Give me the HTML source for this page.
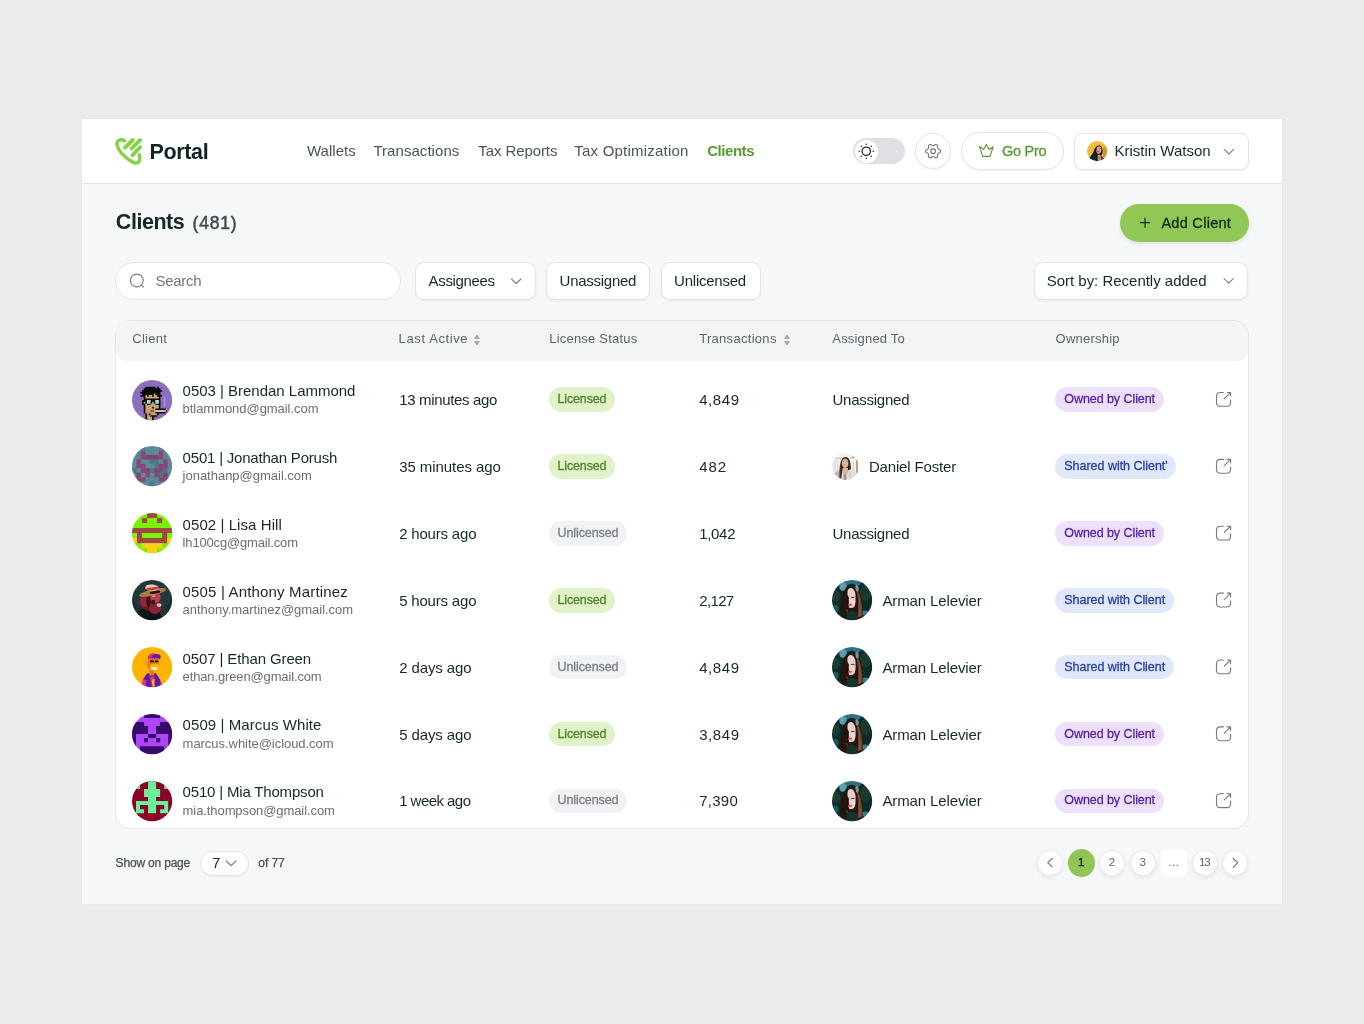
<!DOCTYPE html>
<html><head><meta charset="utf-8"><title>Portal - Clients</title>
<style>
*{box-sizing:border-box;margin:0;padding:0}
html,body{width:1364px;height:1024px;overflow:hidden}
body{background:#ebebeb;font-family:"Liberation Sans",sans-serif;position:relative}
#root{position:absolute;left:0;top:0;width:1364px;height:1024px;will-change:transform}
.t{position:absolute;white-space:pre;line-height:1}
.abs{position:absolute}
.card{position:absolute;left:82px;top:119px;width:1200px;height:785px;background:#f6f7f9;box-shadow:0 0 2px rgba(0,0,0,.04)}
.hdr{position:absolute;left:82px;top:119px;width:1200px;height:65px;background:#fff;border-bottom:1px solid #e6e7ea}
.btn{position:absolute;background:#fff;border:1px solid #e3e4e8;box-shadow:0 1px 2px rgba(16,24,40,.05)}
svg{position:absolute;overflow:visible}
</style></head>
<body>
<div id="root">
<div class="card"></div><div class="hdr"></div>
<svg style="left:0;top:0" width="1364" height="200" fill="none" stroke="#84d14a" stroke-linecap="round" stroke-linejoin="round">
<path stroke-width="3.5" d="M124.7 140.8 C123.4 139.9 122.3 139.6 121.1 139.65 C119.9 139.75 118.8 140.15 118.0 140.95 C117.2 141.85 116.9 143 117.05 144.2 C117.2 145.8 117.7 147.2 118.5 148.7 C119.5 150.5 120.8 152.2 122.2 153.9 C123.8 155.6 125.5 157.2 127.4 158.7 C129 159.9 130.6 161 132.3 161.9 C133.6 162.6 135 163.1 136.3 163.0 C137.7 162.9 138.8 162.2 139.3 161.0 C139.7 160 139.8 158.8 139.7 157.6 C139.6 156.6 139.5 155.7 139.3 154.8"/>
<path stroke-width="3.9" d="M124.85 147.55 L132.8 140"/>
<path stroke-width="3.9" d="M131.5 148.3 L140.2 140"/>
<path stroke-width="3.9" d="M132.45 155.2 L140.2 147.25"/>
</svg>
<span class="t" style="left:149.4px;top:142px;font-size:21.5px;font-weight:700;color:#0f2422;letter-spacing:-0.328px;">Portal</span>
<span class="t" style="left:306.9px;top:143px;font-size:15px;color:#4c5456;letter-spacing:0.046px;">Wallets</span>
<span class="t" style="left:373.4px;top:143px;font-size:15px;color:#4c5456;letter-spacing:0.053px;">Transactions</span>
<span class="t" style="left:478.3px;top:143px;font-size:15px;color:#4c5456;letter-spacing:-0.095px;">Tax Reports</span>
<span class="t" style="left:574.3px;top:143px;font-size:15px;color:#4c5456;letter-spacing:0.215px;">Tax Optimization</span>
<span class="t" style="left:707.2px;top:143px;font-size:15px;font-weight:700;color:#5a9833;letter-spacing:-0.453px;">Clients</span>
<div class="abs" style="left:853.1px;top:138.1px;width:51.8px;height:26px;border-radius:13px;background:#dfe0e3"></div>
<div class="abs" style="left:854.6px;top:139.5px;width:23.2px;height:23.2px;border-radius:50%;background:#fff"></div>
<svg style="left:0;top:0" width="1364" height="200" fill="none" stroke="#1d2c2c" stroke-width="1.3"><circle cx="866.25" cy="151.25" r="4.2"/><circle cx="873.25" cy="151.25" r="0.75" fill="#1d2c2c" stroke="none"/><circle cx="871.20" cy="156.20" r="0.75" fill="#1d2c2c" stroke="none"/><circle cx="866.25" cy="158.25" r="0.75" fill="#1d2c2c" stroke="none"/><circle cx="861.30" cy="156.20" r="0.75" fill="#1d2c2c" stroke="none"/><circle cx="859.25" cy="151.25" r="0.75" fill="#1d2c2c" stroke="none"/><circle cx="861.30" cy="146.30" r="0.75" fill="#1d2c2c" stroke="none"/><circle cx="866.25" cy="144.25" r="0.75" fill="#1d2c2c" stroke="none"/><circle cx="871.20" cy="146.30" r="0.75" fill="#1d2c2c" stroke="none"/></svg>
<div class="btn" style="left:915px;top:133px;width:36px;height:36px;border-radius:50%"></div>
<svg style="left:0;top:0" width="1364" height="200" fill="none" stroke="#70767a" stroke-width="1.1" stroke-linejoin="round"><path d="M940.50 151.20 L940.49 151.39 L940.47 151.59 L940.44 151.78 L940.38 151.97 L940.30 152.15 L940.19 152.32 L940.03 152.49 L939.84 152.63 L939.60 152.76 L939.33 152.87 L939.06 152.97 L938.82 153.06 L938.61 153.15 L938.44 153.25 L938.31 153.36 L938.20 153.47 L938.10 153.59 L938.02 153.70 L937.94 153.83 L937.86 153.95 L937.79 154.08 L937.73 154.20 L937.67 154.34 L937.61 154.48 L937.57 154.63 L937.55 154.80 L937.55 155.00 L937.57 155.22 L937.61 155.48 L937.66 155.76 L937.70 156.05 L937.71 156.32 L937.68 156.56 L937.62 156.78 L937.52 156.96 L937.40 157.12 L937.27 157.27 L937.12 157.39 L936.96 157.51 L936.80 157.61 L936.63 157.70 L936.45 157.78 L936.27 157.84 L936.08 157.89 L935.88 157.91 L935.67 157.90 L935.45 157.85 L935.23 157.75 L935.00 157.61 L934.77 157.43 L934.55 157.25 L934.35 157.08 L934.17 156.95 L934.00 156.85 L933.84 156.79 L933.68 156.75 L933.53 156.72 L933.39 156.71 L933.24 156.70 L933.10 156.70 L932.96 156.70 L932.81 156.71 L932.67 156.72 L932.52 156.75 L932.36 156.79 L932.20 156.85 L932.03 156.95 L931.85 157.08 L931.65 157.25 L931.43 157.43 L931.20 157.61 L930.97 157.75 L930.75 157.85 L930.53 157.90 L930.32 157.91 L930.12 157.89 L929.93 157.84 L929.75 157.78 L929.57 157.70 L929.40 157.61 L929.24 157.51 L929.08 157.39 L928.93 157.27 L928.80 157.12 L928.68 156.96 L928.58 156.78 L928.52 156.56 L928.49 156.32 L928.50 156.05 L928.54 155.76 L928.59 155.48 L928.63 155.22 L928.65 155.00 L928.65 154.80 L928.63 154.63 L928.59 154.48 L928.53 154.34 L928.47 154.20 L928.41 154.08 L928.34 153.95 L928.26 153.83 L928.18 153.70 L928.10 153.59 L928.00 153.47 L927.89 153.36 L927.76 153.25 L927.59 153.15 L927.38 153.06 L927.14 152.97 L926.87 152.87 L926.60 152.76 L926.36 152.63 L926.17 152.49 L926.01 152.32 L925.90 152.15 L925.82 151.97 L925.76 151.78 L925.73 151.59 L925.71 151.39 L925.70 151.20 L925.71 151.01 L925.73 150.81 L925.76 150.62 L925.82 150.43 L925.90 150.25 L926.01 150.08 L926.17 149.91 L926.36 149.77 L926.60 149.64 L926.87 149.53 L927.14 149.43 L927.38 149.34 L927.59 149.25 L927.76 149.15 L927.89 149.04 L928.00 148.93 L928.10 148.81 L928.18 148.70 L928.26 148.57 L928.34 148.45 L928.41 148.32 L928.47 148.20 L928.53 148.06 L928.59 147.92 L928.63 147.77 L928.65 147.60 L928.65 147.40 L928.63 147.18 L928.59 146.92 L928.54 146.64 L928.50 146.35 L928.49 146.08 L928.52 145.84 L928.58 145.62 L928.68 145.44 L928.80 145.28 L928.93 145.13 L929.08 145.01 L929.24 144.89 L929.40 144.79 L929.57 144.70 L929.75 144.62 L929.93 144.56 L930.12 144.51 L930.32 144.49 L930.53 144.50 L930.75 144.55 L930.97 144.65 L931.20 144.79 L931.43 144.97 L931.65 145.15 L931.85 145.32 L932.03 145.45 L932.20 145.55 L932.36 145.61 L932.52 145.65 L932.67 145.68 L932.81 145.69 L932.96 145.70 L933.10 145.70 L933.24 145.70 L933.39 145.69 L933.53 145.68 L933.68 145.65 L933.84 145.61 L934.00 145.55 L934.17 145.45 L934.35 145.32 L934.55 145.15 L934.77 144.97 L935.00 144.79 L935.23 144.65 L935.45 144.55 L935.67 144.50 L935.88 144.49 L936.08 144.51 L936.27 144.56 L936.45 144.62 L936.63 144.70 L936.80 144.79 L936.96 144.89 L937.12 145.01 L937.27 145.13 L937.40 145.28 L937.52 145.44 L937.62 145.62 L937.68 145.84 L937.71 146.08 L937.70 146.35 L937.66 146.64 L937.61 146.92 L937.57 147.18 L937.55 147.40 L937.55 147.60 L937.57 147.77 L937.61 147.92 L937.67 148.06 L937.73 148.20 L937.79 148.32 L937.86 148.45 L937.94 148.57 L938.02 148.70 L938.10 148.81 L938.20 148.93 L938.31 149.04 L938.44 149.15 L938.61 149.25 L938.82 149.34 L939.06 149.43 L939.33 149.53 L939.60 149.64 L939.84 149.77 L940.03 149.91 L940.19 150.08 L940.30 150.25 L940.38 150.43 L940.44 150.62 L940.47 150.81 L940.49 151.01 Z"/><circle cx="933.1" cy="151.2" r="2.3"/></svg>
<div class="btn" style="left:961.3px;top:132px;width:102.6px;height:38px;border-radius:19px"></div>
<svg style="left:0;top:0" width="1364" height="200" fill="none" stroke="#5e9a38" stroke-width="1.15" stroke-linejoin="round" stroke-linecap="round">
<path d="M979.5 146.6 L982.7 156.4 L990.0 156.4 L993.2 146.8 L989.0 149.4 L986.3 144.5 L983.7 149.4 Z"/></svg>
<span class="t" style="left:1002.1px;top:144px;font-size:14.5px;color:#5a9833;letter-spacing:-0.308px;-webkit-text-stroke:0.3px #5a9833;">Go Pro</span>
<div class="btn" style="left:1074.4px;top:133px;width:174.2px;height:37px;border-radius:8px"></div>
<svg style="left:1087.05px;top:140.85px" width="20.30" height="20.30" viewBox="150 140 740 740"><defs><clipPath id="kkw"><circle cx="520" cy="510" r="370"/></clipPath><filter id="fkw" x="-10%" y="-10%" width="120%" height="120%"><feGaussianBlur stdDeviation="12"/></filter></defs><g clip-path="url(#kkw)"><g filter="url(#fkw)"><rect x="0" y="0" width="1100" height="1100" fill="#f1bd3c"/><ellipse cx="820" cy="560" rx="110" ry="230" fill="#d99a22"/><ellipse cx="800" cy="560" rx="25" ry="90" fill="#9aa23a"/><path d="M240 760 Q380 600 440 400 Q520 270 640 300 Q720 360 720 520 Q700 640 660 700 L760 780 L700 900 L380 900 Z" fill="#1a1512"/><path d="M240 760 Q360 640 430 560 L540 700 L520 880 L340 880 Z" fill="#0e2a2b"/><path d="M660 680 L760 760 L700 860 L640 840 Z" fill="#2a5a5e"/><ellipse cx="585" cy="470" rx="92" ry="135" transform="rotate(12 585 470)" fill="#dca08a"/><path d="M540 640 L650 640 L660 860 L540 860 Z" fill="#c98c78"/><ellipse cx="548" cy="520" rx="45" ry="30" fill="#d8485a"/><ellipse cx="640" cy="420" rx="34" ry="16" fill="#5a3a30"/></g></g></svg>
<span class="t" style="left:1114.5px;top:143px;font-size:15px;color:#16282a;letter-spacing:-0.003px;">Kristin Watson</span>
<svg style="left:0;top:0" width="1364" height="200" fill="none" stroke="#7d8285" stroke-width="1.1" stroke-linecap="round" stroke-linejoin="round"><path d="M1224.2 149.4 L1228.9 154 L1233.6 149.4"/></svg>
<span class="t" style="left:115.8px;top:212px;font-size:21.5px;font-weight:700;color:#132724;letter-spacing:-0.448px;">Clients</span>
<span class="t" style="left:192.6px;top:215px;font-size:17.5px;color:#454b4d;letter-spacing:0.76px;-webkit-text-stroke:0.5px #454b4d;">(481)</span>
<div class="abs" style="left:1120px;top:203.6px;width:129px;height:38px;border-radius:19px;background:#90c755;box-shadow:0 2px 4px rgba(60,90,20,.12)"></div>
<svg style="left:0;top:0" width="1364" height="300" fill="none" stroke="#1b2e1e" stroke-width="1.2" stroke-linecap="round"><path d="M1140.4 222.7 H1149.6 M1145 218.1 V227.3"/></svg>
<span class="t" style="left:1161.4px;top:216px;font-size:14.5px;color:#14261c;letter-spacing:0.288px;-webkit-text-stroke:0.3px #14261c;">Add Client</span>
<div class="btn" style="left:115.4px;top:262px;width:285.6px;height:38px;border-radius:19px;box-shadow:none"></div>
<svg style="left:0;top:0" width="1364" height="320" fill="none" stroke="#777c7e" stroke-width="1.1" stroke-linecap="round"><circle cx="136.8" cy="280.5" r="6.4"/><path d="M141.6 285.2 L143.4 287"/></svg>
<span class="t" style="left:155.6px;top:273px;font-size:15px;color:#707577;letter-spacing:-0.326px;">Search</span>
<div class="btn" style="left:414.8px;top:262px;width:120.8px;height:38px;border-radius:9px"></div>
<span class="t" style="left:428.6px;top:273px;font-size:15px;color:#16282a;letter-spacing:-0.34px;">Assignees</span>
<div class="btn" style="left:546.1px;top:262px;width:104.2px;height:38px;border-radius:9px"></div>
<span class="t" style="left:559.6px;top:273px;font-size:15px;color:#16282a;letter-spacing:-0.269px;">Unassigned</span>
<div class="btn" style="left:661.1px;top:262px;width:99.6px;height:38px;border-radius:9px"></div>
<span class="t" style="left:674.1px;top:273px;font-size:15px;color:#16282a;letter-spacing:-0.235px;">Unlicensed</span>
<div class="btn" style="left:1033.7px;top:262px;width:214.8px;height:38px;border-radius:9px"></div>
<span class="t" style="left:1046.7px;top:273px;font-size:15px;color:#16282a;letter-spacing:-0.013px;">Sort by: Recently added</span>
<svg style="left:0;top:0" width="1364" height="320" fill="none" stroke="#7d8285" stroke-width="1.1" stroke-linecap="round" stroke-linejoin="round"><path d="M511.5 279 L516.2 283.5 L520.9 279"/><path d="M1224.1 278.6 L1228.7 283.1 L1233.3 278.6"/></svg>
<div class="abs" style="left:115.4px;top:319.8px;width:1133.4px;height:509px;border-radius:15px;background:#fff;border:1px solid #e4e5e9"></div>
<div class="abs" style="left:116.4px;top:320.8px;width:1131.4px;height:40px;border-radius:14px 14px 10px 10px;background:#f3f4f6"></div>
<span class="t" style="left:132.3px;top:332px;font-size:13px;color:#5f6567;letter-spacing:0.27px;">Client</span>
<span class="t" style="left:398.6px;top:332px;font-size:13px;color:#5f6567;letter-spacing:0.613px;">Last Active</span>
<span class="t" style="left:549.2px;top:332px;font-size:13px;color:#5f6567;letter-spacing:0.217px;">License Status</span>
<span class="t" style="left:699.2px;top:332px;font-size:13px;color:#5f6567;letter-spacing:0.297px;">Transactions</span>
<span class="t" style="left:832.3px;top:332px;font-size:13px;color:#5f6567;letter-spacing:0.181px;">Assigned To</span>
<span class="t" style="left:1055.6px;top:332px;font-size:13px;color:#5f6567;letter-spacing:0.232px;">Ownership</span>
<svg style="left:0;top:0" width="1364" height="400" fill="#a6aaad" stroke="#a6aaad" stroke-width="1" stroke-linejoin="round"><path d="M474.5 338.55 L476.9 335.0 L479.29999999999995 338.55 Z"/><path d="M474.5 341.45 L476.9 345.0 L479.29999999999995 341.45 Z"/><path d="M784.6 338.55 L787 335.0 L789.4 338.55 Z"/><path d="M784.6 341.45 L787 345.0 L789.4 341.45 Z"/></svg>
<svg style="left:131.90px;top:379.50px" width="40.20" height="40.20" viewBox="92 75 886 886"><defs><clipPath id="kp"><circle cx="535" cy="518" r="443"/></clipPath></defs><g clip-path="url(#kp)"><rect x="0" y="0" width="1100" height="1100" fill="#8c6ebd"/><path fill="#a88bd6" d="M793.4 444.2h36.9v36.9h-36.9zM793.4 481.1h36.9v36.9h-36.9zM793.4 518.0h36.9v36.9h-36.9zM793.4 554.9h36.9v36.9h-36.9zM793.4 591.8h36.9v36.9h-36.9zM793.4 628.8h36.9v36.9h-36.9z"/><path fill="#0a0a08" d="M387.3 222.7h221.5v36.9h-221.5zM645.8 222.7h36.9v36.9h-36.9zM350.4 259.6h369.2v36.9h-369.2zM313.5 296.5h443.0v36.9h-443.0zM276.6 333.4h443.0v36.9h-443.0zM313.5 370.3h406.1v36.9h-406.1zM276.6 407.2h479.9v36.9h-479.9zM350.4 444.2h369.2v36.9h-369.2zM350.4 481.1h369.2v36.9h-369.2zM313.5 518.0h406.1v36.9h-406.1zM313.5 554.9h406.1v36.9h-406.1zM313.5 591.8h406.1v36.9h-406.1zM350.4 628.8h369.2v36.9h-369.2zM350.4 665.7h369.2v36.9h-369.2zM350.4 702.6h479.9v36.9h-479.9zM350.4 739.5h516.8v36.9h-516.8zM350.4 776.4h479.9v36.9h-479.9zM387.3 813.3h295.3v36.9h-295.3zM387.3 850.2h258.4v36.9h-258.4zM387.3 887.2h184.6v36.9h-184.6zM387.3 924.1h184.6v36.9h-184.6z"/><path fill="#c7a06f" d="M571.9 370.3h36.9v36.9h-36.9zM387.3 407.2h36.9v36.9h-36.9zM461.2 407.2h73.8v36.9h-73.8zM571.9 407.2h73.8v36.9h-73.8zM387.3 444.2h295.3v36.9h-295.3zM424.2 518.0h73.8v36.9h-73.8zM608.8 518.0h73.8v36.9h-73.8zM350.4 554.9h36.9v36.9h-36.9zM424.2 554.9h73.8v36.9h-73.8zM535.0 554.9h36.9v36.9h-36.9zM608.8 554.9h73.8v36.9h-73.8zM387.3 591.8h36.9v36.9h-36.9zM498.1 591.8h110.8v36.9h-110.8zM387.3 628.8h295.3v36.9h-295.3zM387.3 665.7h147.7v36.9h-147.7zM571.9 665.7h110.8v36.9h-110.8zM387.3 702.6h221.5v36.9h-221.5zM387.3 739.5h443.0v36.9h-443.0zM387.3 776.4h221.5v36.9h-221.5zM424.2 813.3h36.9v36.9h-36.9zM498.1 813.3h147.7v36.9h-147.7zM424.2 850.2h73.8v36.9h-73.8zM424.2 887.2h110.8v36.9h-110.8zM424.2 924.1h110.8v36.9h-110.8z"/><path fill="#82ecec" d="M424.2 518.0h73.8v36.9h-73.8zM608.8 518.0h73.8v36.9h-73.8zM424.2 554.9h73.8v36.9h-73.8zM608.8 554.9h73.8v36.9h-73.8zM498.1 739.5h73.8v36.9h-73.8zM608.8 739.5h221.5v36.9h-221.5z"/><path fill="#8e1f1f" d="M498.1 739.5h73.8v36.9h-73.8zM608.8 739.5h221.5v36.9h-221.5z"/><path fill="#e8e8e8" d="M608.8 739.5h221.5v36.9h-221.5z"/><path fill="#f08a24" d="M793.4 739.5h36.9v36.9h-36.9z"/></g></svg>
<span class="t" style="left:182.6px;top:383px;font-size:15px;color:#16282a;letter-spacing:-0.018px;">0503 | Brendan Lammond</span>
<span class="t" style="left:182.6px;top:402px;font-size:13px;color:#6a6f71;letter-spacing:-0.047px;">btlammond@gmail.com</span>
<span class="t" style="left:399.2px;top:392px;font-size:15px;color:#16282a;letter-spacing:-0.344px;">13 minutes ago</span>
<div class="abs" style="left:548.8px;top:387.4px;width:66.4px;height:24.5px;border-radius:12.5px;background:#e1f1c8"></div>
<span class="t" style="left:557.5px;top:393px;font-size:12.5px;color:#4c862c;letter-spacing:-0.15px;-webkit-text-stroke:0.3px #4c862c;">Licensed</span>
<span class="t" style="left:699.2px;top:392px;font-size:15px;color:#16282a;letter-spacing:0.588px;">4,849</span>
<span class="t" style="left:832.5px;top:392px;font-size:15px;color:#16282a;letter-spacing:-0.247px;">Unassigned</span>
<div class="abs" style="left:1055.2px;top:387.4px;width:108.5px;height:24.5px;border-radius:12.5px;background:#ede0fa"></div>
<span class="t" style="left:1064.3px;top:393px;font-size:12.5px;color:#5a22a8;letter-spacing:-0.066px;-webkit-text-stroke:0.3px #5a22a8;">Owned by Client</span>
<svg style="left:131.90px;top:446.38px" width="40.20" height="40.20" viewBox="92 78 886 886"><defs><clipPath id="kj"><circle cx="535" cy="521" r="443"/></clipPath></defs><g clip-path="url(#kj)"><rect x="0" y="0" width="1100" height="1100" fill="#5b8a99"/><path fill="#568493" d="M288.9 78.0h98.4v98.4h-98.4zM682.7 78.0h98.4v98.4h-98.4zM190.4 176.4h98.4v98.4h-98.4zM485.8 176.4h98.4v98.4h-98.4zM190.4 274.9h98.4v98.4h-98.4zM781.1 274.9h98.4v98.4h-98.4z"/><path fill="#4a7887" d="M485.8 373.3h196.9v98.4h-196.9zM584.2 471.8h98.4v98.4h-98.4zM92.0 570.2h98.4v98.4h-98.4zM485.8 570.2h98.4v98.4h-98.4zM781.1 570.2h98.4v98.4h-98.4zM682.7 668.7h98.4v98.4h-98.4zM485.8 865.6h98.4v98.4h-98.4z"/><path fill="#8b4578" d="M288.9 176.4h98.4v98.4h-98.4zM682.7 176.4h98.4v98.4h-98.4zM288.9 274.9h98.4v98.4h-98.4zM682.7 274.9h98.4v98.4h-98.4zM190.4 373.3h98.4v98.4h-98.4zM781.1 373.3h98.4v98.4h-98.4zM190.4 471.8h196.9v98.4h-196.9zM682.7 471.8h196.9v98.4h-196.9zM288.9 570.2h98.4v98.4h-98.4zM682.7 570.2h98.4v98.4h-98.4zM387.3 668.7h98.4v98.4h-98.4zM584.2 668.7h98.4v98.4h-98.4zM190.4 767.1h196.9v98.4h-196.9zM682.7 767.1h196.9v98.4h-196.9z"/><path fill="#84406f" d="M387.3 274.9h295.3v98.4h-295.3zM387.3 570.2h98.4v98.4h-98.4zM584.2 570.2h98.4v98.4h-98.4zM190.4 668.7h98.4v98.4h-98.4zM781.1 668.7h98.4v98.4h-98.4z"/></g></svg>
<span class="t" style="left:182.6px;top:450px;font-size:15px;color:#16282a;letter-spacing:-0.201px;">0501 | Jonathan Porush</span>
<span class="t" style="left:182.6px;top:469px;font-size:13px;color:#6a6f71;letter-spacing:-0.014px;">jonathanp@gmail.com</span>
<span class="t" style="left:399.2px;top:459px;font-size:15px;color:#16282a;letter-spacing:-0.068px;">35 minutes ago</span>
<div class="abs" style="left:548.8px;top:454.3px;width:66.4px;height:24.5px;border-radius:12.5px;background:#e1f1c8"></div>
<span class="t" style="left:557.5px;top:460px;font-size:12.5px;color:#4c862c;letter-spacing:-0.15px;-webkit-text-stroke:0.3px #4c862c;">Licensed</span>
<span class="t" style="left:699.2px;top:459px;font-size:15px;color:#16282a;letter-spacing:0.984px;">482</span>
<svg style="left:831.95px;top:453.13px" width="26.90" height="26.90" viewBox="120 90 810 810"><defs><clipPath id="kdn"><circle cx="525" cy="495" r="405"/></clipPath><filter id="fdn" x="-10%" y="-10%" width="120%" height="120%"><feGaussianBlur stdDeviation="9"/></filter></defs><g clip-path="url(#kdn)"><g filter="url(#fdn)"><rect x="0" y="0" width="1100" height="1100" fill="#f1f2f3"/><rect x="150" y="300" width="170" height="360" fill="#e2e4e6"/><rect x="190" y="235" width="220" height="34" fill="#c4c6c8"/><ellipse cx="750" cy="225" rx="70" ry="35" fill="#b9bbbc"/><rect x="845" y="300" width="58" height="400" rx="10" fill="#b99a7a"/><rect x="752" y="340" width="26" height="300" fill="#d9c8b8"/><path d="M180 700 L330 610 L340 860 Z" fill="#b3b7ba"/><path d="M390 700 Q520 640 700 600 Q830 640 860 760 L700 900 L390 900 Z" fill="#e3dccf"/><rect x="470" y="700" width="80" height="200" fill="#8f979c"/><rect x="640" y="680" width="60" height="160" fill="#c9d0d6"/><path d="M340 840 Q330 420 420 260 Q520 170 620 250 Q700 380 690 580 L600 620 L430 620 L400 860 Z" fill="#4a2e20"/><ellipse cx="425" cy="520" rx="22" ry="50" fill="#0f0a08"/><ellipse cx="622" cy="520" rx="20" ry="48" fill="#0f0a08"/><ellipse cx="515" cy="400" rx="95" ry="140" fill="#dfb7a0"/><path d="M440 540 L600 540 L610 700 Q520 760 430 700 Z" fill="#dcb39c"/><ellipse cx="510" cy="440" rx="40" ry="12" fill="#c08a86"/><ellipse cx="470" cy="345" rx="22" ry="10" fill="#6b4a40"/><ellipse cx="560" cy="345" rx="22" ry="10" fill="#6b4a40"/></g></g></svg>
<span class="t" style="left:868.9px;top:459px;font-size:15px;color:#16282a;letter-spacing:-0.159px;">Daniel Foster</span>
<div class="abs" style="left:1055.2px;top:454.3px;width:121px;height:24.5px;border-radius:12.5px;background:#e1e8fc"></div>
<span class="t" style="left:1064.3px;top:460px;font-size:12.5px;color:#2740a8;letter-spacing:-0.024px;-webkit-text-stroke:0.3px #2740a8;">Shared with Client'</span>
<svg style="left:131.90px;top:513.26px" width="40.20" height="40.20" viewBox="92 72 886 886"><defs><clipPath id="kl"><circle cx="535" cy="515" r="443"/></clipPath></defs><g clip-path="url(#kl)"><rect x="0" y="0" width="1100" height="1100" fill="#79f300"/><path fill="#a04748" d="M424.2 72.0h221.5v110.8h-221.5zM313.5 182.8h110.8v110.8h-110.8zM645.8 182.8h110.8v110.8h-110.8zM92.0 404.2h886.0v110.8h-886.0zM202.8 515.0h110.8v110.8h-110.8zM756.5 515.0h110.8v110.8h-110.8zM202.8 625.8h664.5v110.8h-664.5z"/><path fill="#f7d118" d="M92.0 625.8h110.8v110.8h-110.8zM867.2 625.8h110.8v110.8h-110.8zM313.5 736.5h443.0v110.8h-443.0zM202.8 847.2h110.8v110.8h-110.8zM424.2 847.2h221.5v110.8h-221.5zM756.5 847.2h110.8v110.8h-110.8z"/></g></svg>
<span class="t" style="left:182.6px;top:517px;font-size:15px;color:#16282a;letter-spacing:0.072px;">0502 | Lisa Hill</span>
<span class="t" style="left:182.6px;top:536px;font-size:13px;color:#6a6f71;letter-spacing:-0.162px;">lh100cg@gmail.com</span>
<span class="t" style="left:399.2px;top:526px;font-size:15px;color:#16282a;letter-spacing:-0.193px;">2 hours ago</span>
<div class="abs" style="left:548.8px;top:521.2px;width:78.4px;height:24.5px;border-radius:12.5px;background:#f1f2f4"></div>
<span class="t" style="left:557.5px;top:527px;font-size:12.5px;color:#7a7f83;letter-spacing:-0.094px;-webkit-text-stroke:0.3px #7a7f83;">Unlicensed</span>
<span class="t" style="left:699.2px;top:526px;font-size:15px;color:#16282a;letter-spacing:-0.312px;">1,042</span>
<span class="t" style="left:832.5px;top:526px;font-size:15px;color:#16282a;letter-spacing:-0.247px;">Unassigned</span>
<div class="abs" style="left:1055.2px;top:521.2px;width:108.5px;height:24.5px;border-radius:12.5px;background:#ede0fa"></div>
<span class="t" style="left:1064.3px;top:527px;font-size:12.5px;color:#5a22a8;letter-spacing:-0.066px;-webkit-text-stroke:0.3px #5a22a8;">Owned by Client</span>
<svg style="left:131.90px;top:580.14px" width="40.20" height="40.20" viewBox="92 72 886 886"><defs><clipPath id="ka4"><circle cx="535" cy="515" r="443"/></clipPath><filter id="fa4" x="-10%" y="-10%" width="120%" height="120%"><feGaussianBlur stdDeviation="14"/></filter></defs><g clip-path="url(#ka4)"><g filter="url(#fa4)"><rect x="0" y="0" width="1100" height="1100" fill="#1d2d2e"/><ellipse cx="535" cy="420" rx="420" ry="330" fill="#24383a"/><path d="M190 960 Q200 720 360 690 L760 670 Q890 720 900 960 Z" fill="#0e1413"/><ellipse cx="800" cy="780" rx="90" ry="120" fill="#27332f"/><ellipse cx="470" cy="540" rx="215" ry="215" fill="#6b1a27"/><ellipse cx="600" cy="690" rx="140" ry="130" fill="#8a2432"/><ellipse cx="360" cy="520" rx="90" ry="150" fill="#8c2a38"/><ellipse cx="455" cy="520" rx="45" ry="170" fill="#3d0c14"/><ellipse cx="610" cy="455" rx="115" ry="125" fill="#c03c48"/><ellipse cx="570" cy="425" rx="40" ry="22" fill="#9fb0ad"/><ellipse cx="560" cy="560" rx="40" ry="50" fill="#2a1a12"/><ellipse cx="690" cy="625" rx="55" ry="40" fill="#d9c2c4"/><ellipse cx="545" cy="345" rx="305" ry="68" transform="rotate(-13 545 345)" fill="#a9784b"/><ellipse cx="600" cy="340" rx="120" ry="30" transform="rotate(-8 600 340)" fill="#2a0a10"/><ellipse cx="530" cy="245" rx="150" ry="75" fill="#dcc09a"/><ellipse cx="540" cy="262" rx="150" ry="34" transform="rotate(-8 540 262)" fill="#c8434d"/><ellipse cx="500" cy="205" rx="100" ry="30" fill="#e6d2b0"/></g></g></svg>
<span class="t" style="left:182.6px;top:584px;font-size:15px;color:#16282a;letter-spacing:0.168px;">0505 | Anthony Martinez</span>
<span class="t" style="left:182.6px;top:603px;font-size:13px;color:#6a6f71;letter-spacing:-0.028px;">anthony.martinez@gmail.com</span>
<span class="t" style="left:399.2px;top:593px;font-size:15px;color:#16282a;letter-spacing:-0.193px;">5 hours ago</span>
<div class="abs" style="left:548.8px;top:588.0px;width:66.4px;height:24.5px;border-radius:12.5px;background:#e1f1c8"></div>
<span class="t" style="left:557.5px;top:594px;font-size:12.5px;color:#4c862c;letter-spacing:-0.15px;-webkit-text-stroke:0.3px #4c862c;">Licensed</span>
<span class="t" style="left:699.2px;top:593px;font-size:15px;color:#16282a;letter-spacing:-0.637px;">2,127</span>
<svg style="left:832.00px;top:580.44px" width="40.20" height="40.20" viewBox="92 72 886 886"><defs><clipPath id="kr3"><circle cx="535" cy="515" r="443"/></clipPath><filter id="fr3" x="-10%" y="-10%" width="120%" height="120%"><feGaussianBlur stdDeviation="11"/></filter></defs><g clip-path="url(#kr3)"><g filter="url(#fr3)"><rect x="0" y="0" width="1100" height="1100" fill="#0f2c2a"/><ellipse cx="500" cy="140" rx="230" ry="85" fill="#2f6f82"/><ellipse cx="335" cy="215" rx="80" ry="95" fill="#5b9fb2"/><ellipse cx="830" cy="360" rx="120" ry="170" fill="#183a2e"/><ellipse cx="180" cy="430" rx="90" ry="130" fill="#1a3a30"/><ellipse cx="820" cy="800" rx="85" ry="55" fill="#2f7f92"/><ellipse cx="170" cy="700" rx="70" ry="80" fill="#1d5560"/><path d="M290 900 Q235 520 380 270 Q500 110 645 225 Q785 420 765 880 Q600 985 290 900 Z" fill="#21130e"/><path d="M420 200 Q520 110 620 190 L600 260 L450 260 Z" fill="#14201f"/><path d="M615 240 Q765 390 762 865 L650 900 Q700 560 615 240 Z" fill="#6a3c2b"/><path d="M660 330 Q735 520 720 860 L690 870 Q720 560 660 330 Z" fill="#9a6046"/><ellipse cx="645" cy="255" rx="36" ry="72" transform="rotate(-8 645 255)" fill="#8d8d95"/><path d="M395 700 Q480 770 565 950 L480 960 Q425 800 395 700 Z" fill="#7a4528"/><path d="M432 335 Q440 250 512 250 Q602 270 612 420 Q622 560 592 650 Q540 712 470 682 Q432 560 468 470 Q420 420 432 335 Z" fill="#ebcfcb"/><path d="M432 470 Q470 500 462 600 Q440 640 425 600 Z" fill="#1c100c"/><ellipse cx="550" cy="455" rx="48" ry="15" fill="#6a2f2c"/><ellipse cx="492" cy="620" rx="46" ry="22" fill="#cf4a5c"/><ellipse cx="560" cy="560" rx="40" ry="50" fill="#f0d8d4"/><path d="M420 765 Q540 725 640 785 L660 960 L400 960 Z" fill="#13302f"/></g></g></svg>
<span class="t" style="left:882.4px;top:593px;font-size:15px;color:#16282a;letter-spacing:-0.122px;">Arman Lelevier</span>
<div class="abs" style="left:1055.2px;top:588.0px;width:118.8px;height:24.5px;border-radius:12.5px;background:#e1e8fc"></div>
<span class="t" style="left:1064.3px;top:594px;font-size:12.5px;color:#2740a8;letter-spacing:-0.033px;-webkit-text-stroke:0.3px #2740a8;">Shared with Client</span>
<svg style="left:131.90px;top:647.02px" width="40.20" height="40.20" viewBox="92 72 886 886"><defs><clipPath id="ka5"><circle cx="535" cy="515" r="443"/></clipPath><filter id="fa5" x="-10%" y="-10%" width="120%" height="120%"><feGaussianBlur stdDeviation="5"/></filter></defs><g clip-path="url(#ka5)"><g filter="url(#fa5)"><rect x="0" y="0" width="1100" height="1100" fill="#fdb400"/><path d="M420 655 L620 650 L700 770 L770 960 L300 960 L340 780 Z" fill="#5a1fa6"/><path d="M310 900 L345 780 L405 800 L400 930 Z" fill="#f0249a"/><path d="M715 800 L760 900 L720 905 Z" fill="#f0249a"/><path d="M470 715 L600 715 L585 960 L530 960 Z" fill="#e0208a"/><path d="M525 790 L590 780 L590 950 L545 950 Z" fill="#f4b018"/><path d="M470 580 L570 590 L575 700 L480 700 Z" fill="#ee7a04"/><ellipse cx="555" cy="450" rx="135" ry="130" fill="#ee7a04"/><ellipse cx="395" cy="405" rx="40" ry="50" fill="#f7a112"/><ellipse cx="700" cy="405" rx="30" ry="45" fill="#f7a112"/><ellipse cx="590" cy="505" rx="95" ry="70" fill="#fdb813"/><rect x="515" y="520" width="135" height="55" rx="14" fill="#f2f2f0"/><rect x="488" y="368" width="88" height="40" rx="8" fill="#160c10"/><rect x="598" y="368" width="78" height="40" rx="8" fill="#160c10"/><path d="M440 330 Q450 230 560 215 L700 235 Q740 260 715 325 L690 340 L470 345 Z" fill="#5b1fa0"/><path d="M440 330 Q450 235 550 220 L600 228 Q520 270 505 335 Z" fill="#e0208a"/><rect x="465" y="322" width="225" height="36" rx="16" fill="#f0703a"/><rect x="470" y="340" width="215" height="18" rx="9" fill="#d8507a"/></g></g></svg>
<span class="t" style="left:182.6px;top:651px;font-size:15px;color:#16282a;letter-spacing:-0.122px;">0507 | Ethan Green</span>
<span class="t" style="left:182.6px;top:670px;font-size:13px;color:#6a6f71;letter-spacing:-0.136px;">ethan.green@gmail.com</span>
<span class="t" style="left:399.2px;top:660px;font-size:15px;color:#16282a;letter-spacing:-0.121px;">2 days ago</span>
<div class="abs" style="left:548.8px;top:654.9px;width:78.4px;height:24.5px;border-radius:12.5px;background:#f1f2f4"></div>
<span class="t" style="left:557.5px;top:661px;font-size:12.5px;color:#7a7f83;letter-spacing:-0.094px;-webkit-text-stroke:0.3px #7a7f83;">Unlicensed</span>
<span class="t" style="left:699.2px;top:660px;font-size:15px;color:#16282a;letter-spacing:0.588px;">4,849</span>
<svg style="left:832.00px;top:647.32px" width="40.20" height="40.20" viewBox="92 72 886 886"><defs><clipPath id="kr4"><circle cx="535" cy="515" r="443"/></clipPath><filter id="fr4" x="-10%" y="-10%" width="120%" height="120%"><feGaussianBlur stdDeviation="11"/></filter></defs><g clip-path="url(#kr4)"><g filter="url(#fr4)"><rect x="0" y="0" width="1100" height="1100" fill="#0f2c2a"/><ellipse cx="500" cy="140" rx="230" ry="85" fill="#2f6f82"/><ellipse cx="335" cy="215" rx="80" ry="95" fill="#5b9fb2"/><ellipse cx="830" cy="360" rx="120" ry="170" fill="#183a2e"/><ellipse cx="180" cy="430" rx="90" ry="130" fill="#1a3a30"/><ellipse cx="820" cy="800" rx="85" ry="55" fill="#2f7f92"/><ellipse cx="170" cy="700" rx="70" ry="80" fill="#1d5560"/><path d="M290 900 Q235 520 380 270 Q500 110 645 225 Q785 420 765 880 Q600 985 290 900 Z" fill="#21130e"/><path d="M420 200 Q520 110 620 190 L600 260 L450 260 Z" fill="#14201f"/><path d="M615 240 Q765 390 762 865 L650 900 Q700 560 615 240 Z" fill="#6a3c2b"/><path d="M660 330 Q735 520 720 860 L690 870 Q720 560 660 330 Z" fill="#9a6046"/><ellipse cx="645" cy="255" rx="36" ry="72" transform="rotate(-8 645 255)" fill="#8d8d95"/><path d="M395 700 Q480 770 565 950 L480 960 Q425 800 395 700 Z" fill="#7a4528"/><path d="M432 335 Q440 250 512 250 Q602 270 612 420 Q622 560 592 650 Q540 712 470 682 Q432 560 468 470 Q420 420 432 335 Z" fill="#ebcfcb"/><path d="M432 470 Q470 500 462 600 Q440 640 425 600 Z" fill="#1c100c"/><ellipse cx="550" cy="455" rx="48" ry="15" fill="#6a2f2c"/><ellipse cx="492" cy="620" rx="46" ry="22" fill="#cf4a5c"/><ellipse cx="560" cy="560" rx="40" ry="50" fill="#f0d8d4"/><path d="M420 765 Q540 725 640 785 L660 960 L400 960 Z" fill="#13302f"/></g></g></svg>
<span class="t" style="left:882.4px;top:660px;font-size:15px;color:#16282a;letter-spacing:-0.122px;">Arman Lelevier</span>
<div class="abs" style="left:1055.2px;top:654.9px;width:118.8px;height:24.5px;border-radius:12.5px;background:#e1e8fc"></div>
<span class="t" style="left:1064.3px;top:661px;font-size:12.5px;color:#2740a8;letter-spacing:-0.033px;-webkit-text-stroke:0.3px #2740a8;">Shared with Client</span>
<svg style="left:131.90px;top:713.90px" width="40.20" height="40.20" viewBox="92 68 886 886"><defs><clipPath id="km"><circle cx="535" cy="511" r="443"/></clipPath></defs><g clip-path="url(#km)"><rect x="0" y="0" width="1100" height="1100" fill="#ad45fa"/><path fill="#360a6b" d="M357.8 68.0h354.4v88.6h-354.4zM92.0 245.2h265.8v88.6h-265.8zM712.2 245.2h265.8v88.6h-265.8zM92.0 333.8h354.4v88.6h-354.4zM623.6 333.8h354.4v88.6h-354.4zM92.0 422.4h354.4v88.6h-354.4zM623.6 422.4h354.4v88.6h-354.4zM92.0 511.0h88.6v88.6h-88.6zM446.4 511.0h177.2v88.6h-177.2zM889.4 511.0h88.6v88.6h-88.6zM92.0 599.6h88.6v88.6h-88.6zM357.8 599.6h88.6v88.6h-88.6zM623.6 599.6h88.6v88.6h-88.6zM889.4 599.6h88.6v88.6h-88.6zM92.0 688.2h88.6v88.6h-88.6zM889.4 688.2h88.6v88.6h-88.6zM269.2 776.8h531.6v88.6h-531.6zM269.2 865.4h531.6v88.6h-531.6z"/></g></svg>
<span class="t" style="left:182.6px;top:717px;font-size:15px;color:#16282a;letter-spacing:0.084px;">0509 | Marcus White</span>
<span class="t" style="left:182.6px;top:737px;font-size:13px;color:#6a6f71;letter-spacing:-0.042px;">marcus.white@icloud.com</span>
<span class="t" style="left:399.2px;top:727px;font-size:15px;color:#16282a;letter-spacing:-0.121px;">5 days ago</span>
<div class="abs" style="left:548.8px;top:721.8px;width:66.4px;height:24.5px;border-radius:12.5px;background:#e1f1c8"></div>
<span class="t" style="left:557.5px;top:728px;font-size:12.5px;color:#4c862c;letter-spacing:-0.15px;-webkit-text-stroke:0.3px #4c862c;">Licensed</span>
<span class="t" style="left:699.2px;top:727px;font-size:15px;color:#16282a;letter-spacing:0.588px;">3,849</span>
<svg style="left:832.00px;top:714.20px" width="40.20" height="40.20" viewBox="92 72 886 886"><defs><clipPath id="kr5"><circle cx="535" cy="515" r="443"/></clipPath><filter id="fr5" x="-10%" y="-10%" width="120%" height="120%"><feGaussianBlur stdDeviation="11"/></filter></defs><g clip-path="url(#kr5)"><g filter="url(#fr5)"><rect x="0" y="0" width="1100" height="1100" fill="#0f2c2a"/><ellipse cx="500" cy="140" rx="230" ry="85" fill="#2f6f82"/><ellipse cx="335" cy="215" rx="80" ry="95" fill="#5b9fb2"/><ellipse cx="830" cy="360" rx="120" ry="170" fill="#183a2e"/><ellipse cx="180" cy="430" rx="90" ry="130" fill="#1a3a30"/><ellipse cx="820" cy="800" rx="85" ry="55" fill="#2f7f92"/><ellipse cx="170" cy="700" rx="70" ry="80" fill="#1d5560"/><path d="M290 900 Q235 520 380 270 Q500 110 645 225 Q785 420 765 880 Q600 985 290 900 Z" fill="#21130e"/><path d="M420 200 Q520 110 620 190 L600 260 L450 260 Z" fill="#14201f"/><path d="M615 240 Q765 390 762 865 L650 900 Q700 560 615 240 Z" fill="#6a3c2b"/><path d="M660 330 Q735 520 720 860 L690 870 Q720 560 660 330 Z" fill="#9a6046"/><ellipse cx="645" cy="255" rx="36" ry="72" transform="rotate(-8 645 255)" fill="#8d8d95"/><path d="M395 700 Q480 770 565 950 L480 960 Q425 800 395 700 Z" fill="#7a4528"/><path d="M432 335 Q440 250 512 250 Q602 270 612 420 Q622 560 592 650 Q540 712 470 682 Q432 560 468 470 Q420 420 432 335 Z" fill="#ebcfcb"/><path d="M432 470 Q470 500 462 600 Q440 640 425 600 Z" fill="#1c100c"/><ellipse cx="550" cy="455" rx="48" ry="15" fill="#6a2f2c"/><ellipse cx="492" cy="620" rx="46" ry="22" fill="#cf4a5c"/><ellipse cx="560" cy="560" rx="40" ry="50" fill="#f0d8d4"/><path d="M420 765 Q540 725 640 785 L660 960 L400 960 Z" fill="#13302f"/></g></g></svg>
<span class="t" style="left:882.4px;top:727px;font-size:15px;color:#16282a;letter-spacing:-0.122px;">Arman Lelevier</span>
<div class="abs" style="left:1055.2px;top:721.8px;width:108.5px;height:24.5px;border-radius:12.5px;background:#ede0fa"></div>
<span class="t" style="left:1064.3px;top:728px;font-size:12.5px;color:#5a22a8;letter-spacing:-0.066px;-webkit-text-stroke:0.3px #5a22a8;">Owned by Client</span>
<svg style="left:131.90px;top:780.78px" width="40.20" height="40.20" viewBox="92 68 886 886"><defs><clipPath id="kt"><circle cx="535" cy="511" r="443"/></clipPath></defs><g clip-path="url(#kt)"><rect x="0" y="0" width="1100" height="1100" fill="#8c0028"/><path fill="#6bf09a" d="M446.4 68.0h177.2v88.6h-177.2zM180.6 156.6h88.6v88.6h-88.6zM446.4 156.6h177.2v88.6h-177.2zM800.8 156.6h88.6v88.6h-88.6zM357.8 245.2h354.4v88.6h-354.4zM357.8 333.8h354.4v88.6h-354.4zM446.4 422.4h177.2v88.6h-177.2zM180.6 511.0h708.8v88.6h-708.8zM180.6 599.6h88.6v88.6h-88.6zM446.4 599.6h177.2v88.6h-177.2zM800.8 599.6h88.6v88.6h-88.6zM180.6 688.2h177.2v88.6h-177.2zM446.4 688.2h177.2v88.6h-177.2zM712.2 688.2h177.2v88.6h-177.2z"/></g></svg>
<span class="t" style="left:182.6px;top:784px;font-size:15px;color:#16282a;letter-spacing:-0.18px;">0510 | Mia Thompson</span>
<span class="t" style="left:182.6px;top:804px;font-size:13px;color:#6a6f71;letter-spacing:-0.085px;">mia.thompson@gmail.com</span>
<span class="t" style="left:399.2px;top:793px;font-size:15px;color:#16282a;letter-spacing:-0.548px;">1 week ago</span>
<div class="abs" style="left:548.8px;top:788.7px;width:78.4px;height:24.5px;border-radius:12.5px;background:#f1f2f4"></div>
<span class="t" style="left:557.5px;top:794px;font-size:12.5px;color:#7a7f83;letter-spacing:-0.094px;-webkit-text-stroke:0.3px #7a7f83;">Unlicensed</span>
<span class="t" style="left:699.2px;top:793px;font-size:15px;color:#16282a;letter-spacing:0.263px;">7,390</span>
<svg style="left:832.00px;top:781.08px" width="40.20" height="40.20" viewBox="92 72 886 886"><defs><clipPath id="kr6"><circle cx="535" cy="515" r="443"/></clipPath><filter id="fr6" x="-10%" y="-10%" width="120%" height="120%"><feGaussianBlur stdDeviation="11"/></filter></defs><g clip-path="url(#kr6)"><g filter="url(#fr6)"><rect x="0" y="0" width="1100" height="1100" fill="#0f2c2a"/><ellipse cx="500" cy="140" rx="230" ry="85" fill="#2f6f82"/><ellipse cx="335" cy="215" rx="80" ry="95" fill="#5b9fb2"/><ellipse cx="830" cy="360" rx="120" ry="170" fill="#183a2e"/><ellipse cx="180" cy="430" rx="90" ry="130" fill="#1a3a30"/><ellipse cx="820" cy="800" rx="85" ry="55" fill="#2f7f92"/><ellipse cx="170" cy="700" rx="70" ry="80" fill="#1d5560"/><path d="M290 900 Q235 520 380 270 Q500 110 645 225 Q785 420 765 880 Q600 985 290 900 Z" fill="#21130e"/><path d="M420 200 Q520 110 620 190 L600 260 L450 260 Z" fill="#14201f"/><path d="M615 240 Q765 390 762 865 L650 900 Q700 560 615 240 Z" fill="#6a3c2b"/><path d="M660 330 Q735 520 720 860 L690 870 Q720 560 660 330 Z" fill="#9a6046"/><ellipse cx="645" cy="255" rx="36" ry="72" transform="rotate(-8 645 255)" fill="#8d8d95"/><path d="M395 700 Q480 770 565 950 L480 960 Q425 800 395 700 Z" fill="#7a4528"/><path d="M432 335 Q440 250 512 250 Q602 270 612 420 Q622 560 592 650 Q540 712 470 682 Q432 560 468 470 Q420 420 432 335 Z" fill="#ebcfcb"/><path d="M432 470 Q470 500 462 600 Q440 640 425 600 Z" fill="#1c100c"/><ellipse cx="550" cy="455" rx="48" ry="15" fill="#6a2f2c"/><ellipse cx="492" cy="620" rx="46" ry="22" fill="#cf4a5c"/><ellipse cx="560" cy="560" rx="40" ry="50" fill="#f0d8d4"/><path d="M420 765 Q540 725 640 785 L660 960 L400 960 Z" fill="#13302f"/></g></g></svg>
<span class="t" style="left:882.4px;top:793px;font-size:15px;color:#16282a;letter-spacing:-0.122px;">Arman Lelevier</span>
<div class="abs" style="left:1055.2px;top:788.7px;width:108.5px;height:24.5px;border-radius:12.5px;background:#ede0fa"></div>
<span class="t" style="left:1064.3px;top:794px;font-size:12.5px;color:#5a22a8;letter-spacing:-0.066px;-webkit-text-stroke:0.3px #5a22a8;">Owned by Client</span>
<svg style="left:0;top:0" width="1364" height="1024" fill="none" stroke="#777c7f" stroke-width="1.1" stroke-linecap="round" stroke-linejoin="round"><path d="M1223.45 392.50 H1220.40 Q1216.50 392.50 1216.50 396.40 V402.40 Q1216.50 406.30 1220.40 406.30 H1226.70 Q1230.60 406.30 1230.60 402.40 V400.10"/><path d="M1224.30 398.70 L1230.60 392.50 M1227.25 392.50 H1230.60 V396.00"/><path d="M1223.45 459.38 H1220.40 Q1216.50 459.38 1216.50 463.28 V469.28 Q1216.50 473.18 1220.40 473.18 H1226.70 Q1230.60 473.18 1230.60 469.28 V466.98"/><path d="M1224.30 465.58 L1230.60 459.38 M1227.25 459.38 H1230.60 V462.88"/><path d="M1223.45 526.26 H1220.40 Q1216.50 526.26 1216.50 530.16 V536.16 Q1216.50 540.06 1220.40 540.06 H1226.70 Q1230.60 540.06 1230.60 536.16 V533.86"/><path d="M1224.30 532.46 L1230.60 526.26 M1227.25 526.26 H1230.60 V529.76"/><path d="M1223.45 593.14 H1220.40 Q1216.50 593.14 1216.50 597.04 V603.04 Q1216.50 606.94 1220.40 606.94 H1226.70 Q1230.60 606.94 1230.60 603.04 V600.74"/><path d="M1224.30 599.34 L1230.60 593.14 M1227.25 593.14 H1230.60 V596.64"/><path d="M1223.45 660.02 H1220.40 Q1216.50 660.02 1216.50 663.92 V669.92 Q1216.50 673.82 1220.40 673.82 H1226.70 Q1230.60 673.82 1230.60 669.92 V667.62"/><path d="M1224.30 666.22 L1230.60 660.02 M1227.25 660.02 H1230.60 V663.52"/><path d="M1223.45 726.90 H1220.40 Q1216.50 726.90 1216.50 730.80 V736.80 Q1216.50 740.70 1220.40 740.70 H1226.70 Q1230.60 740.70 1230.60 736.80 V734.50"/><path d="M1224.30 733.10 L1230.60 726.90 M1227.25 726.90 H1230.60 V730.40"/><path d="M1223.45 793.78 H1220.40 Q1216.50 793.78 1216.50 797.68 V803.68 Q1216.50 807.58 1220.40 807.58 H1226.70 Q1230.60 807.58 1230.60 803.68 V801.38"/><path d="M1224.30 799.98 L1230.60 793.78 M1227.25 793.78 H1230.60 V797.28"/></svg>
<span class="t" style="left:115.6px;top:857px;font-size:12px;color:#4a5052;letter-spacing:-0.185px;-webkit-text-stroke:0.25px #4a5052;">Show on page</span>
<div class="btn" style="left:200px;top:850.6px;width:49.4px;height:25px;border-radius:12.5px"></div>
<span class="t" style="left:212.1px;top:855px;font-size:15px;color:#16282a;">7</span>
<span class="t" style="left:258.3px;top:857px;font-size:12px;color:#4a5052;letter-spacing:-0.076px;-webkit-text-stroke:0.25px #4a5052;">of 77</span>
<div class="abs" style="left:1037.4px;top:849.7px;width:26px;height:26px;border-radius:50%;background:#fff;border:1px solid #e7e8eb;box-shadow:0 2px 4px rgba(16,24,40,.07)"></div>
<div class="abs" style="left:1067.7px;top:849.0px;width:27.2px;height:27.6px;border-radius:50%;background:#8fc655"></div>
<div class="abs" style="left:1099.0px;top:849.7px;width:26px;height:26px;border-radius:50%;background:#fff;border:1px solid #e7e8eb;box-shadow:0 2px 4px rgba(16,24,40,.07)"></div>
<div class="abs" style="left:1129.8px;top:849.7px;width:26px;height:26px;border-radius:50%;background:#fff;border:1px solid #e7e8eb;box-shadow:0 2px 4px rgba(16,24,40,.07)"></div>
<div class="abs" style="left:1160.7px;top:849.5px;width:26px;height:26.4px;border-radius:4px;background:#fff"></div>
<div class="abs" style="left:1191.6px;top:849.7px;width:26px;height:26px;border-radius:50%;background:#fff;border:1px solid #e7e8eb;box-shadow:0 2px 4px rgba(16,24,40,.07)"></div>
<div class="abs" style="left:1222.3px;top:849.7px;width:26px;height:26px;border-radius:50%;background:#fff;border:1px solid #e7e8eb;box-shadow:0 2px 4px rgba(16,24,40,.07)"></div>
<span class="t" style="left:1066.1px;top:857px;font-size:11.5px;color:#14261c;width:30px;text-align:center;-webkit-text-stroke:0.4px #14261c;">1</span>
<span class="t" style="left:1097.0px;top:857px;font-size:11.5px;color:#5f6567;width:30px;text-align:center;">2</span>
<span class="t" style="left:1127.8px;top:857px;font-size:11.5px;color:#5f6567;width:30px;text-align:center;">3</span>
<span class="t" style="left:1158.8px;top:857px;font-size:11.5px;color:#5f6567;width:30px;text-align:center;letter-spacing:0.5px;">...</span>
<span class="t" style="left:1189.3px;top:857px;font-size:11.5px;color:#5f6567;width:30px;text-align:center;letter-spacing:-1.1px;">13</span>
<svg style="left:0;top:0" width="1364" height="1024" fill="none" stroke="#6c7274" stroke-width="1.1" stroke-linecap="round" stroke-linejoin="round"><path d="M226.2 860.9 L231.1 865.7 L236 860.9"/><path d="M1052.3 858.5 L1047.7 862.7 L1052.3 866.9"/><path d="M1233.2 858.5 L1237.8 862.9 L1233.2 867.3"/></svg>
</div>
</body></html>
